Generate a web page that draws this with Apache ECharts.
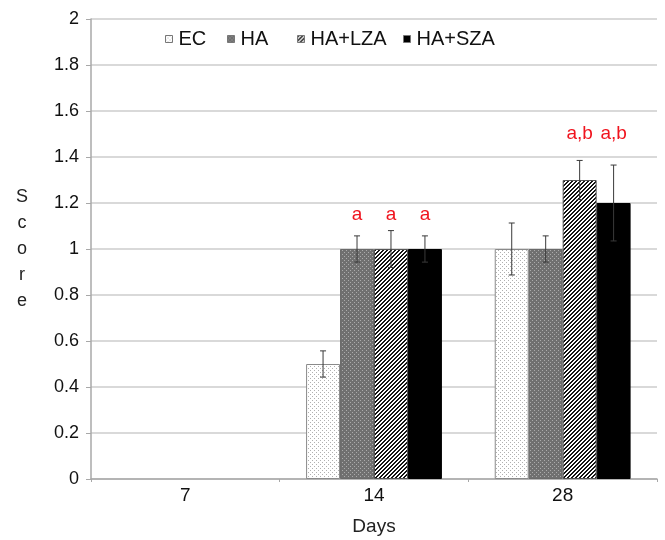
<!DOCTYPE html>
<html>
<head>
<meta charset="utf-8">
<script src="https://cdn.jsdelivr.net/npm/echarts@6/dist/echarts.min.js"></script>
<style>
html,body{margin:0;padding:0;background:#fff;}
#chart{width:665px;height:540px;}
</style>
</head>
<body>
<div id="chart"></div>
<script>
// ---- data ----
const categories = ['7', '14', '28'];
const seriesNames = ['EC', 'HA', 'HA+LZA', 'HA+SZA'];
const ecMean  = ['-', 0.5, 1.0];
const haMean  = ['-', 1.0, 1.0];
const lzaMean = ['-', 1.0, 1.3];
const szaMean = ['-', 1.0, 1.2];
const ecErr  = [null, 0.057, 0.113];
const haErr  = [null, 0.057, 0.057];
const lzaErr = [null, 0.08, 0.085];
const szaErr = [null, 0.057, 0.165];
const ecSig  = ['', '', ''];
const haSig  = ['', 'a', ''];
const lzaSig = ['', 'a', 'a,b'];
const szaSig = ['', 'a', 'a,b'];
const sigLevel = [null, 1.15, 1.5];
const yMin = 0, yMax = 2, yStep = 0.2;

// ---- patterns ----
function pat(size, draw) {
  const c = document.createElement('canvas');
  c.width = size; c.height = size;
  const ctx = c.getContext('2d');
  draw(ctx, size);
  return { image: c, repeat: 'repeat' };
}
const ecFill = pat(4, (ctx) => {
  ctx.fillStyle = '#ffffff'; ctx.fillRect(0, 0, 4, 4);
  ctx.fillStyle = '#b0b0b0'; ctx.fillRect(0, 0, 1, 1); ctx.fillRect(2, 2, 1, 1);
});
const haFill = pat(4, (ctx) => {
  ctx.fillStyle = '#707070'; ctx.fillRect(0, 0, 4, 4);
  ctx.fillStyle = '#ababab'; ctx.fillRect(0, 0, 1, 1); ctx.fillRect(2, 2, 1, 1);
});
const lzaFill = pat(4, (ctx) => {
  const img = ctx.createImageData(4, 4);
  for (let y = 0; y < 4; y++) for (let x = 0; x < 4; x++) {
    const k = (x + y) % 4;
    const v = (k === 0 || k === 1) ? 20 : 255;
    const i = (y * 4 + x) * 4;
    img.data[i] = v; img.data[i + 1] = v; img.data[i + 2] = v; img.data[i + 3] = 255;
  }
  ctx.putImageData(img, 0, 0);
});
const szaFill = '#000000';

const means = [ecMean, haMean, lzaMean, szaMean];
const errs = [ecErr, haErr, lzaErr, szaErr];
const sigs = [ecSig, haSig, lzaSig, szaSig];
const fills = [ecFill, haFill, lzaFill, szaFill];
const borders = ['#8a8a8a', '#6a6a6a', '#555555', '#000000'];
const catGap = 0.28;
const legendLeft = [165, 227, 297, 403];

const FONT = 'Liberation Sans, Arial, sans-serif';

const series = [];
seriesNames.forEach((name, i) => {
  series.push({
    name: name,
    type: 'bar',
    data: means[i],
    barGap: '0%',
    barCategoryGap: (catGap * 100) + '%',
    itemStyle: { color: fills[i], borderColor: borders[i], borderWidth: 1 },
    emphasis: { disabled: true },
    animation: false
  });
});
seriesNames.forEach((name, i) => {
  const d = [];
  categories.forEach((c, ci) => {
    if (means[i][ci] !== '-' && errs[i][ci] != null) d.push([ci, means[i][ci], errs[i][ci]]);
  });
  series.push({
    name: 'err_' + name,
    type: 'custom',
    z: 10,
    animation: false,
    silent: true,
    encode: { x: 0, y: 1 },
    data: d,
    renderItem: function (params, api) {
      const ci = api.value(0), v = api.value(1), e = api.value(2);
      const band = api.size([1, 0])[0];
      const bw = band * (1 - catGap) / seriesNames.length;
      const cx = api.coord([ci, v])[0] + (i - (seriesNames.length - 1) / 2) * bw;
      const yt = api.coord([ci, v + e])[1];
      const yb = api.coord([ci, v - e])[1];
      const cap = 3;
      const st = { stroke: '#3a3a3a', lineWidth: 1 };
      const children = [
        { type: 'line', shape: { x1: cx, y1: yt, x2: cx, y2: yb }, style: st },
        { type: 'line', shape: { x1: cx - cap, y1: yt, x2: cx + cap, y2: yt }, style: st },
        { type: 'line', shape: { x1: cx - cap, y1: yb, x2: cx + cap, y2: yb }, style: st }
      ];
      const s = sigs[i][ci];
      if (s) {
        const ly = api.coord([ci, sigLevel[ci]])[1];
        children.push({
          type: 'text',
          style: { x: cx, y: ly, text: s, fill: '#f0141e', font: '19px ' + FONT, align: 'center', verticalAlign: 'middle' }
        });
      }
      return { type: 'group', children: children };
    }
  });
});

const legends = seriesNames.map((name, i) => ({
  data: [name],
  left: legendLeft[i], top: 29,
  padding: 0,
  itemWidth: 7, itemHeight: 7,
  icon: 'rect',
  selectedMode: false,
  textStyle: { fontSize: 20, color: '#111', fontFamily: FONT, padding: [0, 0, 0, 1] },
  itemStyle: { borderColor: '#777', borderWidth: 1 }
}));

const chart = echarts.init(document.getElementById('chart'), null, { renderer: 'canvas' });
chart.setOption({
  animation: false,
  backgroundColor: '#ffffff',
  textStyle: { fontFamily: FONT },
  grid: { left: 91, right: 8, top: 19, bottom: 61, containLabel: false, outerBoundsMode: 'none' },
  legend: legends,
  xAxis: {
    type: 'category',
    data: categories,
    name: 'Days',
    nameLocation: 'middle',
    nameGap: 38,
    nameTextStyle: { fontSize: 19, color: '#222', fontFamily: FONT },
    axisLine: { lineStyle: { color: '#a8a8a8', width: 1.5 } },
    axisTick: { show: true, length: 3, alignWithLabel: false, lineStyle: { color: '#a8a8a8' } },
    axisLabel: { fontSize: 19, color: '#111', margin: 7, fontFamily: FONT },
    splitLine: { show: false }
  },
  yAxis: {
    type: 'value',
    min: yMin, max: yMax, interval: yStep,
    name: 'S\nc\no\nr\ne',
    nameLocation: 'middle',
    nameRotate: 0,
    nameGap: 69,
    nameTextStyle: { fontSize: 18, color: '#222', lineHeight: 26, align: 'center', fontFamily: FONT, padding: [0, 0, 16, 0] },
    axisLine: { show: true, lineStyle: { color: '#a8a8a8', width: 1.5 } },
    axisTick: { show: true, length: 5, lineStyle: { color: '#a8a8a8' } },
    axisLabel: { fontSize: 18, color: '#111', margin: 12, fontFamily: FONT },
    splitLine: { show: true, lineStyle: { color: '#cdcdcd', width: 1.5 } }
  },
  series: series
});
</script>
</body>
</html>
